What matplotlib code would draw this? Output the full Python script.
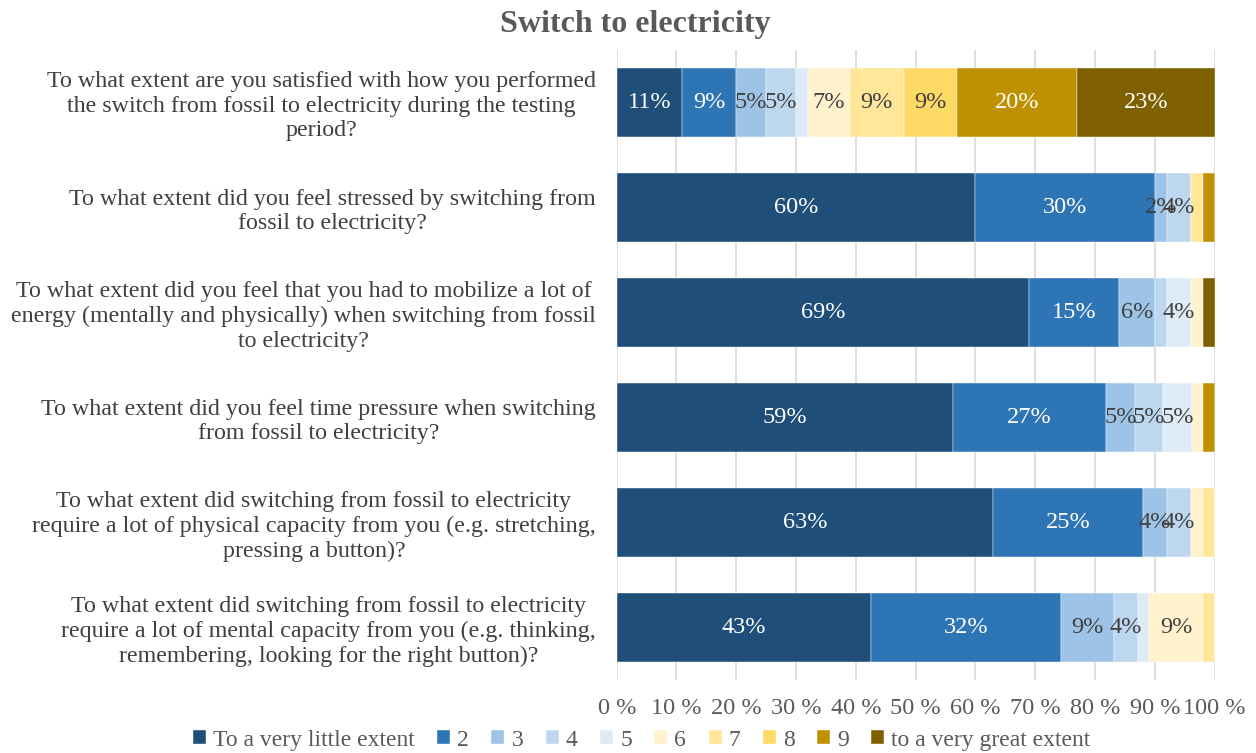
import numpy as np
import matplotlib.pyplot as plt

plt.rcParams['font.family'] = ['Liberation Serif', 'DejaVu Serif']

# survey questions, top to bottom
questions = [
    "To what extent are you satisfied with how you performed\nthe switch from fossil to electricity during the testing\nperiod?",
    "To what extent did you feel stressed by switching from\nfossil to electricity?",
    "To what extent did you feel that you had to mobilize a lot of\nenergy (mentally and physically) when switching from fossil\nto electricity?",
    "To what extent did you feel time pressure when switching\nfrom fossil to electricity?",
    "To what extent did switching from fossil to electricity\nrequire a lot of physical capacity from you (e.g. stretching,\npressing a button)?",
    "To what extent did switching from fossil to electricity\nrequire a lot of mental capacity from you (e.g. thinking,\nremembering, looking for the right button)?",
]

scale = ["To a very little extent", "2", "3", "4", "5", "6", "7", "8", "9",
         "to a very great extent"]

# answer shares (%) per question, one column per scale step
shares = np.array([
    [11, 9, 5, 5, 2, 7, 9, 9, 20, 23],
    [60, 30, 2, 4, 0, 0, 2, 0, 2, 0],
    [69, 15, 6, 2, 4, 2, 0, 0, 0, 2],
    [59, 27, 5, 5, 5, 2, 0, 0, 2, 0],
    [63, 25, 4, 4, 0, 2, 2, 0, 0, 0],
    [43, 32, 9, 4, 2, 9, 2, 0, 0, 0],
], dtype=float)

# segments whose value label is left out (row, column)
no_label = {(0, 4), (1, 6), (1, 8), (2, 3), (2, 5), (2, 9),
            (3, 5), (3, 8), (4, 5), (4, 6), (5, 4), (5, 6)}

colors = ["#1F4E79", "#2E75B6", "#9DC3E6", "#BDD7EE", "#DEEBF7",
          "#FFF2CC", "#FFE699", "#FFD966", "#BF9000", "#7F6000"]
white_text = {0, 1, 8, 9}

# 100 % stacked: each row scaled to its own total
widths = shares / shares.sum(axis=1, keepdims=True) * 100

fig = plt.figure(figsize=(12.56, 7.53), dpi=100)
ax = fig.add_axes([0.491, 0.097, 0.476, 0.837])

y = np.arange(len(questions))
left = np.zeros(len(questions))
for j in range(len(scale)):
    ax.barh(y, widths[:, j], left=left, height=0.66, color=colors[j],
            edgecolor="white", linewidth=0.3, label=scale[j], zorder=2)
    for i in range(len(questions)):
        if shares[i, j] > 0 and (i, j) not in no_label:
            ax.text(left[i] + widths[i, j] / 2, y[i], f"{shares[i, j]:.0f}%",
                    ha="center", va="center", fontsize=17.5,
                    color="white" if j in white_text else "#404040", zorder=3)
    left += widths[:, j]

ax.set_xlim(0, 100)
ax.set_ylim(len(questions) - 0.5, -0.5)
ax.set_xticks(np.arange(0, 101, 10))
ax.set_xticklabels([f"{v} %" for v in range(0, 101, 10)])
ax.set_yticks(y)
ax.set_yticklabels(questions, multialignment="center", linespacing=1.22)
ax.tick_params(axis="x", length=0, pad=13, labelsize=17.5, labelcolor="#595959")
ax.tick_params(axis="y", length=0, pad=15, labelsize=17.3, labelcolor="#404040")
ax.grid(axis="x", color="#D9D9D9", linewidth=1.2, zorder=0)
for s in ax.spines.values():
    s.set_visible(False)

fig.suptitle("Switch to electricity", x=0.506, y=0.987, fontsize=23,
             fontweight="bold", color="#595959")

fig.legend(loc="center", bbox_to_anchor=(0.511, 0.017), ncol=10,
           frameon=False, fontsize=17, labelcolor="#595959",
           handlelength=0.55, handleheight=0.55, handletextpad=0.3,
           columnspacing=0.95)

fig.savefig("out.png", dpi=100)
